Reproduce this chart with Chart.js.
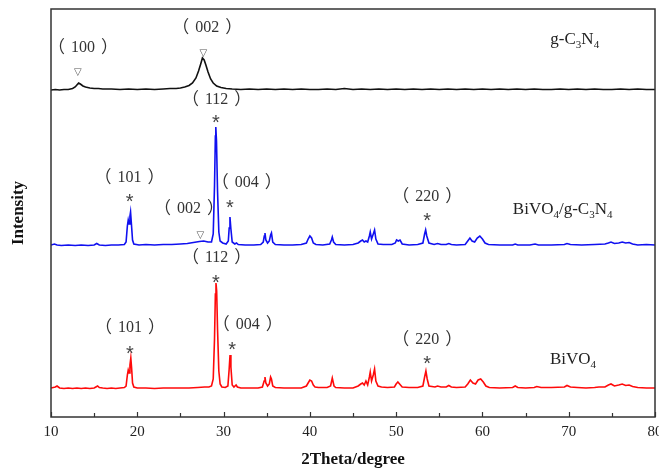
<!DOCTYPE html>
<html>
<head>
<meta charset="utf-8">
<script src="https://cdn.jsdelivr.net/npm/chart.js@4.4.1/dist/chart.umd.min.js"></script>
<style>
  html, body { margin: 0; padding: 0; background: #fff; }
</style>
</head>
<body>
<canvas id="xrd" width="659" height="473"></canvas>
<script>
// 2Theta (degree) vs relative intensity
const xTicks = [10, 20, 30, 40, 50, 60, 70, 80];

const gC3N4 = [
  [10, 0], [10.5, 0.5], [11, 0], [11.5, 0.5], [12, 0.5], [12.5, 1.5], [12.8, 3], [13.0, 5], [13.2, 7],
  [13.4, 6], [13.7, 4], [14.0, 3], [14.5, 2], [15, 1.5], [15.5, 1.5], [16, 1], [17, 1], [18, 0.5],
  [19, 1], [20, 0.5], [21, 1], [22, 0.5], [23, 1], [23.8, 1.5], [24.5, 1.5], [25, 2], [25.5, 3],
  [26, 4.5], [26.4, 7], [26.8, 12], [27.1, 19], [27.35, 26], [27.55, 32], [27.75, 30], [27.95, 25],
  [28.2, 18], [28.5, 11], [28.8, 7], [29.2, 4], [29.7, 2.5], [30.3, 1.5], [31, 1], [32, 0.5], [33, 1],
  [34, 0.5], [35, 1], [36, 0.5], [37, 1], [38, 0.5], [39, 1], [40, 0.5], [41, 0.5], [42, 1], [43, 0.5],
  [44, 1.5], [45, 0.5], [46, 1], [47, 0.5], [48, 1], [49, 0.5], [50, 1], [51, 0.5], [52, 1], [53, 0.5],
  [54, 1], [55, 0.5], [56, 1], [57, 0.5], [58, 1], [59, 0.5], [60, 1], [61, 0.5], [62, 1], [63, 0.5],
  [64, 1], [65, 0.5], [66, 1], [67, 0.5], [68, 0.5], [69, 1], [70, 0.5], [71, 1], [72, 0.5], [73, 1],
  [74, 0.5], [75, 0.5], [76, 1], [77, 0.5], [78, 1], [79, 0.5], [80, 0.5]
];

const composite = [
  [10, 1], [10.4, 2], [10.7, 1], [11.2, 0.5], [12, 1], [12.8, 0.5], [13.5, 1], [14.3, 0.5], [15.0, 1],
  [15.3, 2.5], [15.6, 1], [16.3, 0.5], [17, 1], [17.8, 1], [18.5, 1.5], [18.7, 4], [18.85, 20],
  [18.95, 26], [19.05, 22], [19.15, 30], [19.22, 34], [19.32, 22], [19.45, 6], [19.6, 2], [20.2, 1],
  [21, 1.5], [22, 1], [23, 1.5], [24, 1.5], [25, 2], [25.8, 2.5], [26.5, 3.5], [27.2, 4.5], [27.7, 5],
  [28.2, 4], [28.6, 4], [28.8, 12], [28.95, 60], [29.05, 110], [29.1, 119], [29.18, 105], [29.3, 55],
  [29.45, 14], [29.6, 5], [29.9, 3], [30.3, 2], [30.55, 5], [30.65, 18], [30.74, 29], [30.85, 17],
  [31.0, 4], [31.3, 2], [31.5, 3], [31.7, 1.5], [32.5, 1], [33.5, 1], [34.3, 1.5], [34.6, 4],
  [34.72, 10], [34.8, 13], [34.9, 6], [35.1, 3], [35.3, 5], [35.45, 11], [35.55, 13], [35.7, 4],
  [36, 1.5], [37, 1], [38, 1], [39, 1.5], [39.6, 3], [39.8, 7], [40.0, 10], [40.2, 8], [40.4, 3],
  [40.7, 1.5], [41.5, 1], [42.3, 2], [42.5, 6], [42.6, 9], [42.75, 4], [43, 1.5], [44, 1], [45, 1.5],
  [45.6, 3], [45.9, 5], [46.1, 6], [46.3, 4], [46.5, 5], [46.7, 4], [46.9, 10], [47.0, 14], [47.15, 7],
  [47.35, 12], [47.5, 16], [47.65, 7], [47.9, 2], [48.5, 1.5], [49.5, 1.5], [49.9, 3], [50.05, 6],
  [50.25, 5], [50.45, 6], [50.7, 2], [51.5, 1], [52.5, 1.5], [53.1, 3], [53.3, 12], [53.42, 16],
  [53.55, 10], [53.8, 3], [54.4, 1.5], [54.8, 2.5], [55.2, 1.5], [55.8, 1.5], [56.1, 2.5], [56.4, 1.5],
  [57, 1], [58, 1.5], [58.3, 5], [58.55, 8], [58.8, 5], [59.1, 4], [59.4, 8], [59.7, 10], [60.0, 7],
  [60.3, 3], [60.7, 1.5], [62, 1], [63.5, 1], [63.8, 2], [64.1, 1], [65.5, 1], [66.1, 2], [66.5, 1],
  [68, 1], [69.5, 1.5], [69.8, 2.5], [70.2, 1.5], [71.5, 1], [73, 1.5], [74.2, 2], [74.6, 3], [74.9, 4],
  [75.3, 2.5], [75.8, 3], [76.2, 4], [76.6, 3], [77, 3.5], [77.4, 2], [78, 1], [79, 1.5], [80, 1]
];

const bivo4 = [
  [10, 1], [10.5, 2], [10.7, 3], [11.0, 1], [11.5, 0.5], [12, 1], [12.5, 0.5], [13, 1], [13.5, 0.5],
  [14, 1], [14.5, 0.5], [15.0, 1], [15.2, 2], [15.4, 3], [15.6, 1.5], [16, 1], [16.5, 0.5], [17, 1],
  [17.5, 0.5], [18, 1], [18.5, 1.5], [18.7, 3], [18.85, 14], [18.95, 19], [19.05, 16], [19.15, 24],
  [19.25, 31], [19.35, 20], [19.45, 6], [19.6, 2], [20, 1], [21, 1], [22, 0.5], [23, 1], [24, 1],
  [25, 1], [26, 1], [27, 1.5], [27.8, 2], [28.3, 2], [28.6, 3], [28.8, 10], [28.95, 50], [29.05, 95],
  [29.12, 106], [29.2, 98], [29.3, 60], [29.45, 18], [29.6, 5], [29.8, 2], [30.2, 1.5], [30.5, 3],
  [30.65, 20], [30.75, 34], [30.85, 22], [31.0, 4], [31.2, 2], [31.45, 4], [31.6, 2], [32, 1], [33, 1],
  [34, 1], [34.5, 2], [34.7, 8], [34.8, 12], [34.9, 6], [35.1, 3], [35.3, 5], [35.45, 12], [35.55, 10],
  [35.7, 3], [36, 1.5], [37, 1], [38, 1], [39, 1], [39.6, 3], [39.8, 6], [40.0, 9], [40.2, 8], [40.4, 4],
  [40.6, 2], [41, 1.5], [42, 1.5], [42.4, 3], [42.6, 11], [42.8, 3], [43, 1.5], [44, 1], [45, 1],
  [45.6, 3], [45.9, 5], [46.1, 6], [46.3, 4], [46.5, 8], [46.7, 4], [46.9, 12], [47.0, 17], [47.15, 8],
  [47.35, 14], [47.5, 20], [47.65, 8], [47.9, 3], [48.3, 2], [49, 1.5], [49.8, 2], [50.0, 5], [50.2, 7],
  [50.4, 5], [50.7, 2], [51.5, 1.5], [52.5, 1.5], [53.1, 3], [53.3, 12], [53.45, 18], [53.6, 10],
  [53.8, 3], [54.5, 2], [54.8, 3], [55.2, 2], [55.8, 2], [56.1, 3.5], [56.4, 2], [57, 1.5], [58, 2],
  [58.3, 5], [58.6, 9], [58.9, 6], [59.2, 5], [59.5, 9], [59.8, 10], [60.1, 7], [60.4, 3], [60.8, 1.5],
  [62, 1], [63.5, 1.5], [63.8, 3], [64.1, 1.5], [65, 1], [66, 1.5], [66.3, 2.5], [66.8, 1.5], [68, 1.5],
  [69.5, 2], [69.8, 3.5], [70.2, 2], [71, 1.5], [72, 1], [73, 1.5], [73.5, 2], [74.2, 2], [74.6, 4],
  [74.9, 5], [75.3, 3], [75.8, 4], [76.2, 5], [76.6, 3.5], [77, 4], [77.4, 2.5], [78, 1.5], [79, 1],
  [80, 1]
];

// vertical stacking of the three patterns
const stackOffsets = { gC3N4: 327, composite: 171, bivo4: 28 };

// peak markers: text, 2Theta, intensity level
const hklLabels = [
  ["（100）", 13.7, 369], ["（002）", 28.1, 389],
  ["（112）", 29.2, 317], ["（101）", 19.1, 239], ["（004）", 32.7, 234], ["（002）", 26.0, 208], ["（220）", 53.6, 220],
  ["（112）", 29.2, 159], ["（101）", 19.15, 89], ["（004）", 32.8, 92], ["（220）", 53.6, 77]
];
const starMarks = [
  [29.1, 298], [19.1, 219], [30.74, 213], [53.6, 200],
  [29.1, 138], [19.15, 67], [31.0, 71], [53.6, 57]
];
const triangleMarks = [[13.1, 345], [27.65, 364], [27.3, 182]];
const sampleNames = [
  [[["g-C", 0], ["3", 1], ["N", 0], ["4", 1]], 70.7, 377],
  [[["BiVO", 0], ["4", 1], ["/g-C", 0], ["3", 1], ["N", 0], ["4", 1]], 69.3, 207],
  [[["BiVO", 0], ["4", 1]], 70.5, 57]
];

const SERIF = '"Liberation Serif", "Times New Roman", serif';
const CJK = '"Noto Sans CJK SC", "Noto Sans CJK JP", sans-serif';

function shift(points, off) {
  return points.map(([x, y]) => ({ x: x, y: y + off }));
}

function drawRich(ctx, parts, cx, cy, size) {
  const subSize = Math.round(size * 0.66);
  let total = 0;
  parts.forEach(([t, sub]) => {
    ctx.font = (sub ? subSize : size) + "px " + SERIF;
    total += ctx.measureText(t).width;
  });
  let x = cx - total / 2;
  parts.forEach(([t, sub]) => {
    ctx.font = (sub ? subSize : size) + "px " + SERIF;
    ctx.fillText(t, x, sub ? cy + size * 0.3 : cy);
    x += ctx.measureText(t).width;
  });
}

// full-width brackets from the CJK font, Miller indices in serif
function drawHkl(ctx, t, cx, cy) {
  const open = t[0], inner = t.slice(1, -1), close = t.slice(-1);
  ctx.font = "16px " + SERIF;
  const w = ctx.measureText(inner).width;
  ctx.textAlign = "center";
  ctx.fillText(inner, cx, cy);
  ctx.font = "17px " + CJK;
  ctx.textAlign = "right";
  ctx.fillText(open, cx - w / 2 - 6, cy - 1);
  ctx.textAlign = "left";
  ctx.fillText(close, cx + w / 2 + 6, cy - 1);
}

const decorPlugin = {
  id: "xrdDecor",
  afterDraw(chart) {
    const { ctx, chartArea: a, scales } = chart;
    const xs = scales.x, ys = scales.y;
    ctx.save();

    // frame
    ctx.strokeStyle = "#333";
    ctx.lineWidth = 1.5;
    ctx.strokeRect(a.left, a.top, a.right - a.left, a.bottom - a.top);

    // inward ticks on the bottom axis
    ctx.lineWidth = 1.2;
    for (let v = 10; v <= 80; v += 5) {
      const px = Math.round(xs.getPixelForValue(v)) + 0.5;
      const len = v % 10 === 0 ? 5 : 4;
      ctx.beginPath();
      ctx.moveTo(px, a.bottom);
      ctx.lineTo(px, a.bottom - len);
      ctx.stroke();
    }

    ctx.fillStyle = "#333";
    ctx.textBaseline = "middle";
    hklLabels.forEach(([t, x, y]) => {
      drawHkl(ctx, t, xs.getPixelForValue(x), ys.getPixelForValue(y));
    });

    ctx.textAlign = "center";
    ctx.font = '20px "Liberation Sans", sans-serif';
    ctx.fillStyle = "#444";
    starMarks.forEach(([x, y]) => {
      ctx.fillText("*", xs.getPixelForValue(x), ys.getPixelForValue(y) + 4);
    });

    ctx.font = '10px "DejaVu Sans", sans-serif';
    ctx.fillStyle = "#555";
    triangleMarks.forEach(([x, y]) => {
      ctx.fillText("▽", xs.getPixelForValue(x), ys.getPixelForValue(y));
    });

    ctx.fillStyle = "#222";
    ctx.textAlign = "left";
    sampleNames.forEach(([parts, x, y]) => {
      drawRich(ctx, parts, xs.getPixelForValue(x), ys.getPixelForValue(y), 17);
    });

    ctx.restore();
  }
};

const xrdChart = new Chart(document.getElementById("xrd"), {
  type: "line",
  plugins: [decorPlugin],
  data: {
    datasets: [
      { label: "g-C3N4", data: shift(gC3N4, stackOffsets.gC3N4), borderColor: "#111111" },
      { label: "BiVO4/g-C3N4", data: shift(composite, stackOffsets.composite), borderColor: "#1010f0" },
      { label: "BiVO4", data: shift(bivo4, stackOffsets.bivo4), borderColor: "#ff0a0a" }
    ]
  },
  options: {
    responsive: false,
    animation: false,
    layout: { padding: { top: 9, right: 4, left: 0, bottom: 0 } },
    elements: {
      line: { borderWidth: 1.6, tension: 0, fill: false },
      point: { radius: 0, hoverRadius: 0 }
    },
    plugins: { legend: { display: false }, tooltip: { enabled: false } },
    scales: {
      x: {
        type: "linear",
        min: 10,
        max: 80,
        afterBuildTicks: (scale) => { scale.ticks = xTicks.map((v) => ({ value: v })); },
        afterFit: (scale) => { scale.height = 56; scale.paddingLeft = 0; scale.paddingRight = 0; },
        grid: { display: false, drawTicks: false },
        border: { display: false },
        ticks: { padding: 6, color: "#222", font: { family: SERIF, size: 15 }, maxRotation: 0 },
        title: {
          display: true,
          text: "2Theta/degree",
          color: "#111",
          padding: { top: 0, bottom: 3 },
          font: { family: SERIF, size: 17, weight: "bold" }
        }
      },
      y: {
        type: "linear",
        min: 0,
        max: 408,
        afterFit: (scale) => { scale.width = 51; scale.paddingTop = 0; scale.paddingBottom = 0; },
        grid: { display: false, drawTicks: false },
        border: { display: false },
        ticks: { display: false },
        title: {
          display: true,
          text: "Intensity",
          color: "#111",
          padding: { top: 8, bottom: 0 },
          font: { family: SERIF, size: 17, weight: "bold" }
        }
      }
    }
  }
});
</script>
</body>
</html>
